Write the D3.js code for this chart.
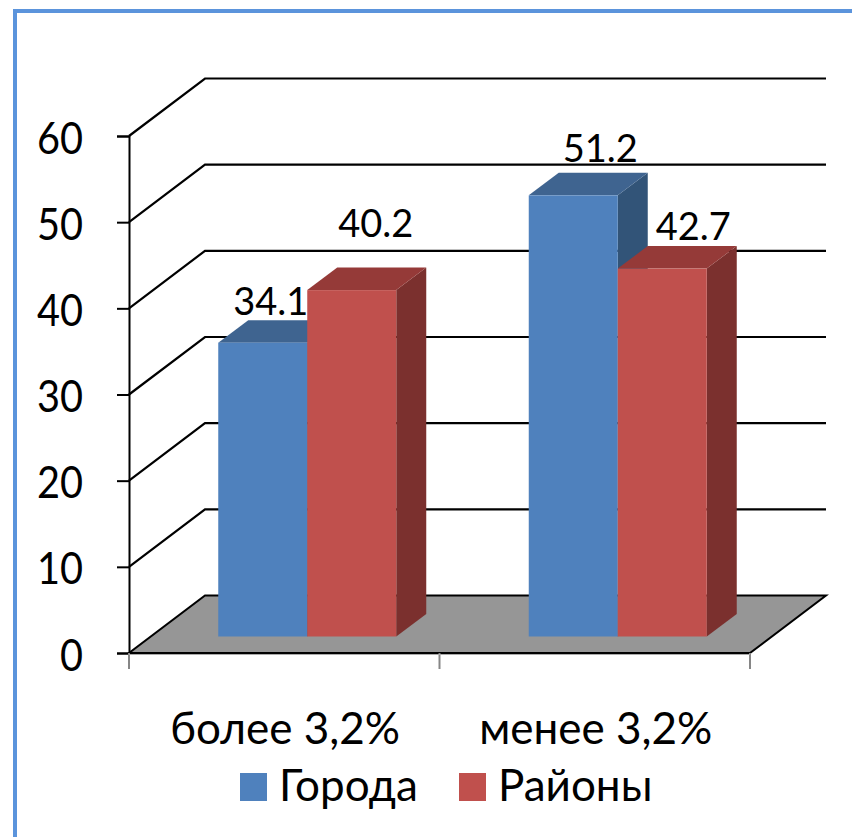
<!DOCTYPE html>
<html><head><meta charset="utf-8">
<script src="https://cdn.jsdelivr.net/npm/d3@7"></script>
<style>html,body{margin:0;padding:0;background:#fff}svg{display:block}text{font-family:Lato,"Open Sans",sans-serif;fill:#000}</style>
</head><body><svg id="c" width="852" height="837"></svg>
<script>
const categories = ["более 3,2%", "менее 3,2%"];
const seriesNames = ["Города", "Районы"];
const gorodaValues = [34.1, 51.2];
const rayonyValues = [40.2, 42.7];
const tickValues = [0, 10, 20, 30, 40, 50, 60];

const svg = d3.select("#c");
const W = 852, H = 837;
const frontL = 129, frontR = 750, y0 = 653, y60 = 136;
const wall = {dx: 76, dy: -57.5};
const base = {dx: 23, dy: -16.5};
const depth = {dx: 30, dy: -22.5};
const barW = 89;
const colors = {
  Города: {front: "#4f81bd", top: "#3f6490", side: "#325478"},
  Районы: {front: "#c0504d", top: "#953a38", side: "#7b302e"}
};
// hand-placed label nudges of the original, [dx, baseline above bar top]
const labelNudge = {"Города": [[8, 28], [27, 33]], "Районы": [[24, 53], [31, 29]]};

const x = d3.scaleBand().domain(categories).range([frontL, frontR]);
const y = d3.scaleLinear().domain([0, 60]).range([y0, y60]);
const x1 = d3.scaleBand().domain(seriesNames).range([-barW, barW]);

svg.append("path").attr("fill", "none").attr("stroke", "#5b94dc").attr("stroke-width", 4)
  .attr("d", `M${W + 5},11H15V${H + 5}`);

// floor
const floor = d3.path();
floor.moveTo(x.range()[0], y(0));
floor.lineTo(frontR, y(0));
floor.lineTo(frontR + wall.dx, y(0) + wall.dy);
floor.lineTo(frontL + wall.dx, y(0) + wall.dy);
floor.closePath();
svg.append("path").attr("d", floor.toString()).attr("fill", "#969696").attr("stroke", "#000").attr("stroke-width", 2);

// grid
svg.append("g").selectAll("path").data(tickValues.filter(d => d > 0)).join("path")
  .attr("fill", "none").attr("stroke", "#000").attr("stroke-width", 2.2)
  .attr("d", d => `M${frontL},${y(d)}L${frontL + wall.dx},${y(d) + wall.dy}H${frontR + wall.dx}`);

// y axis
const yAxis = d3.axisLeft(y).tickValues(tickValues).tickSize(12).tickPadding(34);
const gy = svg.append("g").attr("transform", `translate(${frontL},0)`).call(yAxis);
gy.selectAll("path,line").attr("stroke", "#000").attr("stroke-width", 2);
gy.selectAll("text").attr("font-size", 44).attr("font-family", "Lato").attr("dy", "17")
  .attr("textLength", d => d === 0 ? 23 : 46).attr("lengthAdjust", "spacingAndGlyphs");

// x axis
const xTicks = [...categories.map(c => x(c)), frontR];
svg.append("g").selectAll("line").data(xTicks).join("line")
  .attr("x1", d => d).attr("x2", d => d).attr("y1", y0).attr("y2", y0 + 16)
  .attr("stroke", "#868686").attr("stroke-width", 2);
svg.append("line").attr("x1", frontL).attr("x2", frontR).attr("y1", y0 + 1.5).attr("y2", y0 + 1.5)
  .attr("stroke", "#aaa").attr("stroke-width", 1);
svg.append("g").selectAll("text").data(categories).join("text")
  .attr("x", d => x(d) + x.bandwidth() / 2 + 1).attr("y", 744)
  .attr("text-anchor", "middle").attr("font-size", 44).text(d => d);

// bars
const rows = categories.flatMap((c, i) => [
  {c, i, s: "Города", v: gorodaValues[i]},
  {c, i, s: "Районы", v: rayonyValues[i]}
]);
const barX = d => x(d.c) + x.bandwidth() / 2 + x1(d.s) + base.dx;
const g = svg.append("g").selectAll("g").data(rows).join("g");
g.append("path").attr("fill", d => colors[d.s].side).attr("d", d => {
  const r = barX(d) + barW, t = y(d.v) + base.dy, b = y(0) + base.dy;
  return `M${r},${t}L${r + depth.dx},${t + depth.dy}V${b + depth.dy}L${r},${b}Z`;
});
g.append("path").attr("fill", d => colors[d.s].top).attr("d", d => {
  const l = barX(d), t = y(d.v) + base.dy;
  return `M${l},${t}L${l + depth.dx},${t + depth.dy}H${l + barW + depth.dx}L${l + barW},${t}Z`;
});
g.append("rect").attr("fill", d => colors[d.s].front)
  .attr("x", barX).attr("width", barW)
  .attr("y", d => y(d.v) + base.dy).attr("height", d => y(0) - y(d.v));

// data labels
svg.append("g").selectAll("text").data(rows).join("text")
  .attr("x", d => barX(d) + barW / 2 + labelNudge[d.s][d.i][0])
  .attr("y", d => y(d.v) + base.dy - labelNudge[d.s][d.i][1])
  .attr("text-anchor", "middle").attr("font-size", 38).text(d => d.v.toFixed(1));

// legend
const legendX = d3.scaleOrdinal().domain(seriesNames).range([240, 459]);
const lg = svg.append("g").selectAll("g").data(seriesNames).join("g")
  .attr("transform", d => `translate(${legendX(d)},773)`);
lg.append("rect").attr("width", 27).attr("height", 28).attr("fill", d => colors[d].front);
lg.append("text").attr("x", 39).attr("y", 28).attr("font-size", 44).text(d => d);
</script></body></html>
